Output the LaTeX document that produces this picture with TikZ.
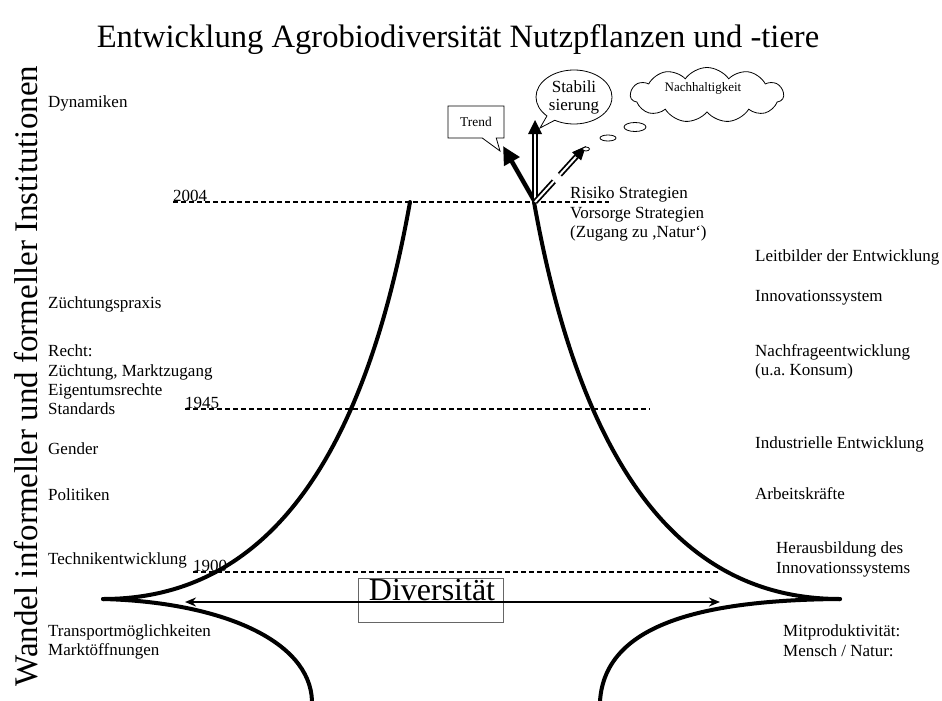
\documentclass[tikz,border=0pt]{standalone}
\usepackage{fontspec}
\setmainfont{Liberation Serif}
\usetikzlibrary{arrows.meta,shapes.geometric,shapes.symbols,shapes.callouts,calc}
\frenchspacing
\begin{document}
\begin{tikzpicture}[x=1pt,y=-1pt,
  lbl/.style={font=\fontsize{17}{19.5}\selectfont, inner sep=0pt, anchor=base west},
  curve/.style={line width=4pt, line cap=round},
  yearline/.style={dash pattern=on 5pt off 3pt, line width=1.3pt},
  thinbox/.style={draw, line width=0.8pt, fill=white, inner sep=0pt}]
\useasboundingbox (0,0) rectangle (942,701);

% title and side text
\node[font=\fontsize{32.6}{36}\selectfont, inner sep=0pt, anchor=base] (title) at (458,48) {Entwicklung Agrobiodiversität Nutzpflanzen und -tiere};
\node[font=\fontsize{33}{36}\selectfont, inner sep=0pt, anchor=base, rotate=90] (vert) at (37,376) {Wandel informeller und formeller Institutionen};

% left labels
\node[lbl] (dyn) at (48,107) {Dynamiken};
\node[lbl] (zp) at (48,308) {Züchtungspraxis};
\node[lbl] (re1) at (48,356) {Recht:};
\node[lbl] (re2) at (48,376) {Züchtung, Marktzugang};
\node[lbl] (re3) at (48,395) {Eigentumsrechte};
\node[lbl] (re4) at (48,414) {Standards};
\node[lbl] (gen) at (48,454) {Gender};
\node[lbl] (pol) at (48,500) {Politiken};
\node[lbl] (tec) at (48,564) {Technikentwicklung};
\node[lbl] (tr1) at (48,636) {Transportmöglichkeiten};
\node[lbl] (tr2) at (48,655) {Marktöffnungen};

% right labels
\node[lbl] (ri1) at (570,198) {Risiko Strategien};
\node[lbl] (ri2) at (570,218) {Vorsorge Strategien};
\node[lbl] (ri3) at (570,237) {(Zugang zu ,Natur‘)};
\node[lbl] (lb) at (755,261) {Leitbilder der Entwicklung};
\node[lbl] (inn) at (755,301) {Innovationssystem};
\node[lbl] (nf1) at (755,356) {Nachfrageentwicklung};
\node[lbl] (nf2) at (755,375) {(u.a. Konsum)};
\node[lbl] (ind) at (755,448) {Industrielle Entwicklung};
\node[lbl] (ak) at (755,499) {Arbeitskräfte};
\node[lbl] (hb1) at (776,553) {Herausbildung des};
\node[lbl] (hb2) at (776,573) {Innovationssystems};
\node[lbl] (mp1) at (783,636) {Mitproduktivität:};
\node[lbl] (mp2) at (783,656) {Mensch / Natur:};

% year lines
\node[lbl] (y2004) at (173,201) {2004};
\node[lbl] (y1945) at (185,408) {1945};
\node[lbl] (y1900) at (193,571) {1900};
\coordinate (a2004) at (173,202); \coordinate (b2004) at (609,202);
\coordinate (a1945) at (185,409); \coordinate (b1945) at (650,409);
\coordinate (a1900) at (193,572); \coordinate (b1900) at (720,572);
\draw[yearline] (a2004) -- (b2004);
\draw[yearline] (a1945) -- (b1945);
\draw[yearline] (a1900) -- (b1900);

% funnel curves
\coordinate (Ltop) at (410,202); \coordinate (Ltip) at (103,599); \coordinate (Lbot) at (312,701);
\coordinate (Rtop) at (534,202); \coordinate (Rtip) at (840,599); \coordinate (Rbot) at (600,701);
\draw[curve] (Ltop) .. controls (360,482) and (253,599) .. (Ltip);
\draw[curve] (Rtop) .. controls (584,482) and (690,599) .. (Rtip);
\draw[curve] (Ltip) .. controls (220,602) and (310,640) .. (Lbot);
\draw[curve] (Rtip) .. controls (700,600) and (605,625) .. (Rbot);

% diversity box and arrow
\node[draw=black!60, line width=0.8pt, minimum width=145pt, minimum height=44pt, inner sep=0pt] (divbox) at (430.5,600) {};
\node[font=\fontsize{32}{36}\selectfont, inner sep=0pt, anchor=base] (divtxt) at (432,600) {Diversität};
\coordinate (arrL) at (185,602); \coordinate (arrR) at (720,602);
\draw[line width=2pt, {Stealth[length=11pt,width=9pt]}-{Stealth[length=11pt,width=9pt]}] (arrL) -- (arrR);

% top arrows
\coordinate (O) at (535,202);
\coordinate (trendtip) at (503,146);
\coordinate (stabtip) at (535,120);
\coordinate (nachtip) at (586,146);
\draw[line width=4.5pt, -{Triangle[length=18pt,width=17pt]}] (O) -- (trendtip);
\draw[double, line width=2pt, double distance=2.5pt] (O) -- ($(stabtip)+(0,13)$);
\fill ($(stabtip)+(-7,14)$) -- (stabtip) -- ($(stabtip)+(7,14)$) -- cycle;
\draw[double, line width=1.8pt, double distance=2pt, dash pattern=on 28pt off 9pt] (O) -- ($(O)!0.84!(nachtip)$);
\draw[line width=1pt, -{Triangle[length=14pt,width=12pt]}] ($(O)!0.8!(nachtip)$) -- (nachtip);

% callouts
\node[thinbox, rectangle callout, minimum width=56pt, minimum height=32pt,
  callout absolute pointer={(500,151)}, callout pointer width=14pt,
  font=\fontsize{13.4}{15}\selectfont] (trend) at (476,122) {Trend};
\node[thinbox, ellipse callout, minimum width=76pt, minimum height=54pt,
  callout absolute pointer={(540,128)}, align=center,
  font=\fontsize{17}{18}\selectfont] (stab) at (574,97) {Stabili\\sierung};
\node[thinbox, cloud, cloud puffs=11, cloud puff arc=110, aspect=2.8,
  minimum width=153pt, minimum height=55pt] (cloud) at (707,95) {};
\node[font=\fontsize{13}{15}\selectfont, inner sep=0pt] (nach) at (703,88) {Nachhaltigkeit};
\node[thinbox, ellipse, minimum width=22pt, minimum height=9pt] (b1) at (635,127) {};
\node[thinbox, ellipse, minimum width=16pt, minimum height=6pt] (b2) at (608,138) {};
\node[thinbox, ellipse, minimum width=7pt, minimum height=4pt] (b3) at (586,149) {};
\end{tikzpicture}
\end{document}
